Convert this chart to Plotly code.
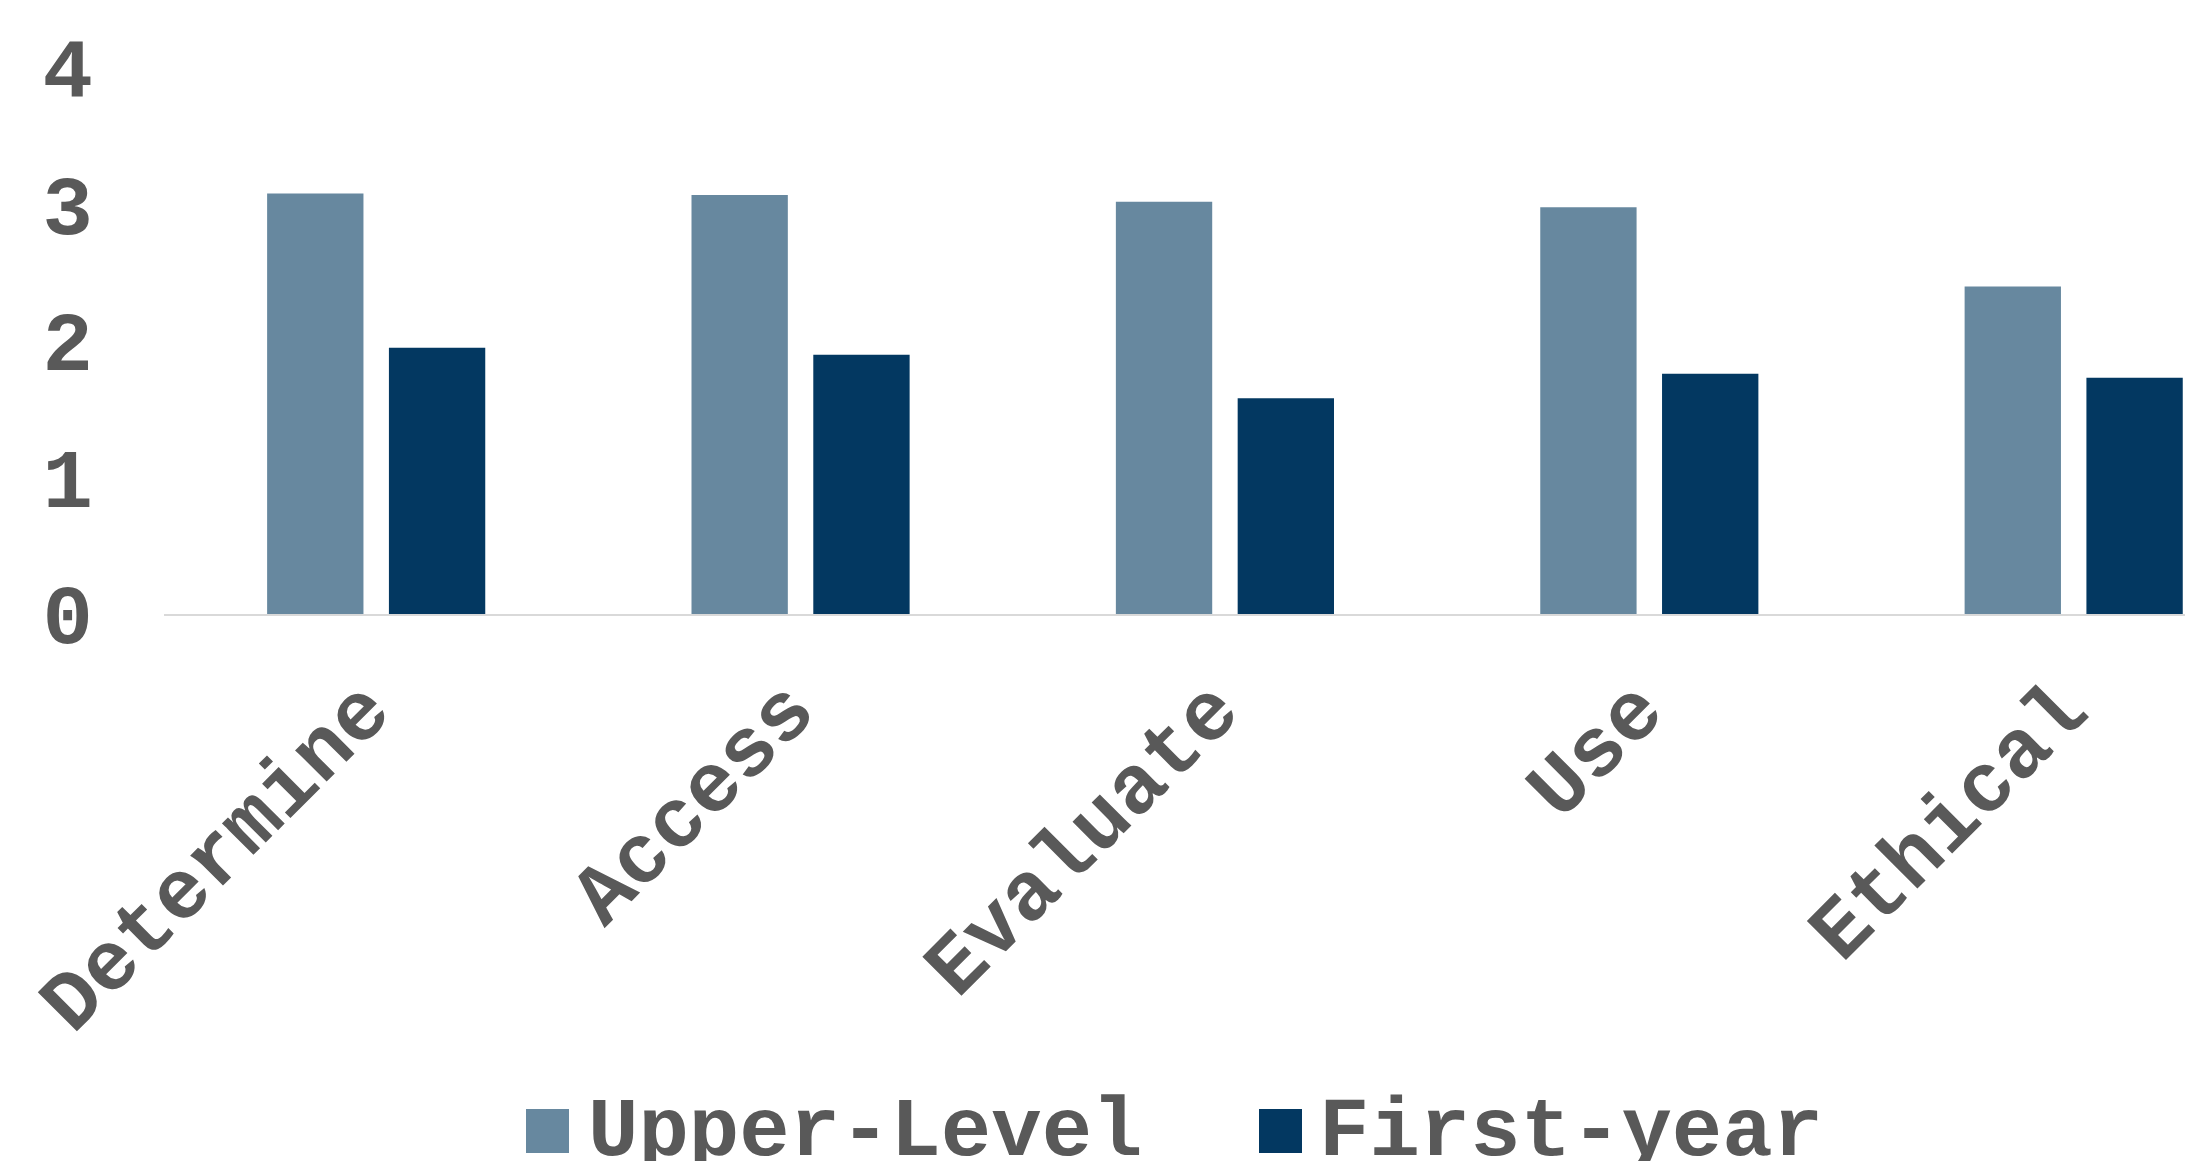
import plotly.graph_objects as go

categories = ["Determine", "Access", "Evaluate", "Use", "Ethical"]
upper_level = [3.08, 3.07, 3.02, 2.98, 2.40]
first_year = [1.95, 1.90, 1.58, 1.76, 1.73]
series_names = ["Upper-Level", "First-year"]
y_ticks = [0, 1, 2, 3, 4]

C_UPPER = "#67889F"
C_FIRST = "#033861"
TXT = "#595959"
FONT = "Courier New, Liberation Mono, monospace"
FS = 84

W, H = 2193, 1161
L, R, T, B = 156, 0, 60, 555
PW, PH = W - L - R, H - T - B

xs = list(range(len(categories)))

fig = go.Figure()
fig.add_trace(go.Bar(x=xs, y=upper_level, name=series_names[0], marker=dict(color=C_UPPER, line=dict(width=0)),
                     width=0.227, offset=-0.257, showlegend=False))
fig.add_trace(go.Bar(x=xs, y=first_year, name=series_names[1], marker=dict(color=C_FIRST, line=dict(width=0)),
                     width=0.227, offset=0.030, showlegend=False))

def px_x(p):
    return (p - L) / PW

def px_y(p):
    return (T + PH - p) / PH

# custom legend (large square symbols)
legend_items = [(series_names[0], C_UPPER, 518, 578), (series_names[1], C_FIRST, 1251, 1309)]
for name, col, sx, tx in legend_items:
    fig.add_shape(type="rect", xref="paper", yref="paper",
                  x0=px_x(sx), x1=px_x(sx + 43), y0=px_y(1145), y1=px_y(1101),
                  fillcolor=col, line=dict(width=0))
    fig.add_annotation(text=f"<b>{name}</b>", xref="paper", yref="paper",
                       x=px_x(tx), y=px_y(1124), xanchor="left", yanchor="middle",
                       showarrow=False, font=dict(family=FONT, size=FS, color=TXT))

fig.update_layout(
    width=W, height=H,
    margin=dict(l=L, r=R, t=T, b=B, pad=0),
    plot_bgcolor="white", paper_bgcolor="white",
    barmode="group",
    font=dict(family=FONT, size=FS, color=TXT),
    showlegend=False,
)
fig.update_xaxes(
    range=[-0.5, 4.30], tickmode="array", tickvals=xs,
    ticktext=[f"<b>{c}</b>" for c in categories],
    tickangle=-45, showgrid=False, showline=True, linecolor="#D9D9D9", linewidth=2,
    ticks="", ticklabelstandoff=10, ticklabelshift=-12, zeroline=False,
    tickfont=dict(family=FONT, size=FS, color=TXT),
)
fig.update_yaxes(
    range=[0, 4], tickmode="array", tickvals=y_ticks,
    ticktext=[f"<b>{v}</b>" for v in y_ticks],
    showgrid=False, showline=False, zeroline=False, ticks="",
    ticklabelstandoff=70,
    tickfont=dict(family=FONT, size=FS, color=TXT),
)

fig.write_html("out.html")
